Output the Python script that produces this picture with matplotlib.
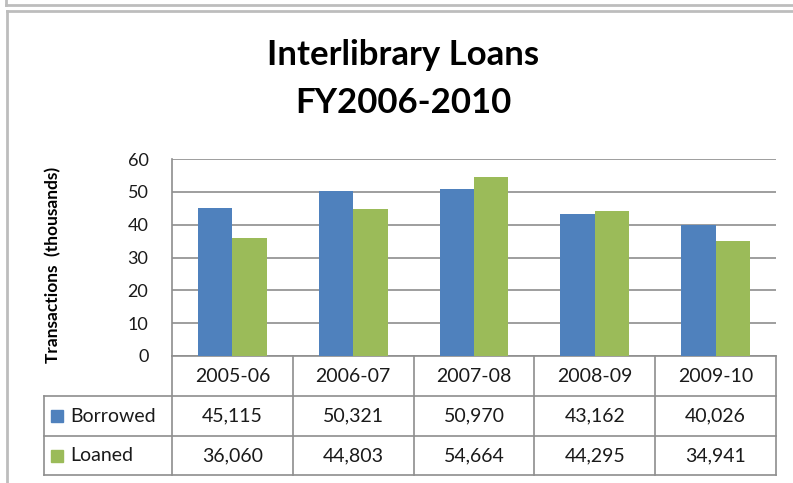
import numpy as np
import matplotlib
matplotlib.use('Agg')
import matplotlib.pyplot as plt
from matplotlib import transforms
from matplotlib.lines import Line2D

# data
years = ['2005-06', '2006-07', '2007-08', '2008-09', '2009-10']
borrowed = [45115, 50321, 50970, 43162, 40026]
loaned = [36060, 44803, 54664, 44295, 34941]
series_names = ['Borrowed', 'Loaned']
y_ticks = [0, 10, 20, 30, 40, 50, 60]

BLUE = '#4F81BD'
GREEN = '#9BBB59'
GRID = '#8e8e8e'
TXT = '#1a1a1a'
FONT = 'Lato'

W, H = 793, 483
fig = plt.figure(figsize=(W / 100, H / 100), dpi=100)

# outer frame lines (pixel coords -> figure fraction)
def px_line(x0, y0, x1, y1, color='#bdbdbd', lw=2.0):
    fig.add_artist(Line2D([x0 / W, x1 / W], [1 - y0 / H, 1 - y1 / H],
                          color=color, lw=lw, transform=fig.transFigure))

px_line(6, 0, 6, 5)
px_line(6, 5, W, 5)
px_line(7, 11, W, 11)
px_line(7, 11, 7, H)

# plot area
ax = fig.add_axes([172 / W, 1 - 356 / H, 604 / W, 197 / H])
x = np.arange(len(years))
bw = 0.285
ax.bar(x - bw / 2, np.array(borrowed) / 1000, bw, color=BLUE, zorder=3)
ax.bar(x + bw / 2, np.array(loaned) / 1000, bw, color=GREEN, zorder=3)

ax.set_xlim(-0.5, len(years) - 0.5)
ax.set_ylim(0, 60)
ax.set_yticks(y_ticks)
ax.set_yticklabels([str(t) for t in y_ticks], fontsize=13, family=FONT, color=TXT)
ax.tick_params(axis='y', length=0, pad=17)
ax.set_xticks([])
ax.yaxis.grid(True, color=GRID, lw=1.2, zorder=0)
for s in ['top', 'right', 'bottom']:
    ax.spines[s].set_visible(False)
ax.spines['left'].set_color(GRID)
ax.spines['left'].set_linewidth(1.2)

fig.text(53 / W, 1 - 265 / H, 'Transactions  (thousands)', rotation=90,
         ha='center', va='center', fontsize=12.5, fontweight='bold', family=FONT)

fig.text(403 / W, 1 - 55 / H, 'Interlibrary Loans', ha='center', va='center',
         fontsize=25, fontweight='bold', family=FONT)
fig.text(403 / W, 1 - 103 / H, 'FY2006-2010', ha='center', va='center',
         fontsize=25, fontweight='bold', family=FONT)

# data table under the axis
tr = transforms.blended_transform_factory(ax.transData, ax.transAxes)
ah = 197.0
r0, r1, r2, r3 = 0, -40 / ah, -80 / ah, -119 / ah
xl = -0.5 - 128 / 120.8
xr = len(years) - 0.5
lk = dict(color=GRID, lw=1.2, transform=tr, clip_on=False)
ax.plot([-0.5, xr], [r0, r0], **lk)
for yy in (r1, r2, r3):
    ax.plot([xl, xr], [yy, yy], **lk)
ax.plot([xl, xl], [r1, r3], **lk)
for xx in np.arange(-0.5, len(years), 1.0):
    ax.plot([xx, xx], [r0, r3], **lk)

tk = dict(ha='center', va='center', fontsize=14, family=FONT, color=TXT,
          transform=tr, clip_on=False)
for i, yr in enumerate(years):
    ax.text(i, (r0 + r1) / 2, yr, **tk)
    ax.text(i, (r1 + r2) / 2, f'{borrowed[i]:,}', **tk)
    ax.text(i, (r2 + r3) / 2, f'{loaned[i]:,}', **tk)

sq_x = -0.5 - (172 - 57) / 120.8
lab_x = -0.5 - (172 - 70) / 120.8
for name, col, (ya, yb) in zip(series_names, [BLUE, GREEN], [(r1, r2), (r2, r3)]):
    ax.plot([sq_x], [(ya + yb) / 2], marker='s', ms=8.5, color=col,
            transform=tr, clip_on=False)
    ax.text(lab_x, (ya + yb) / 2, name, ha='left', va='center', fontsize=14,
            family=FONT, color=TXT, transform=tr, clip_on=False)

fig.savefig('out.png', dpi=100)
